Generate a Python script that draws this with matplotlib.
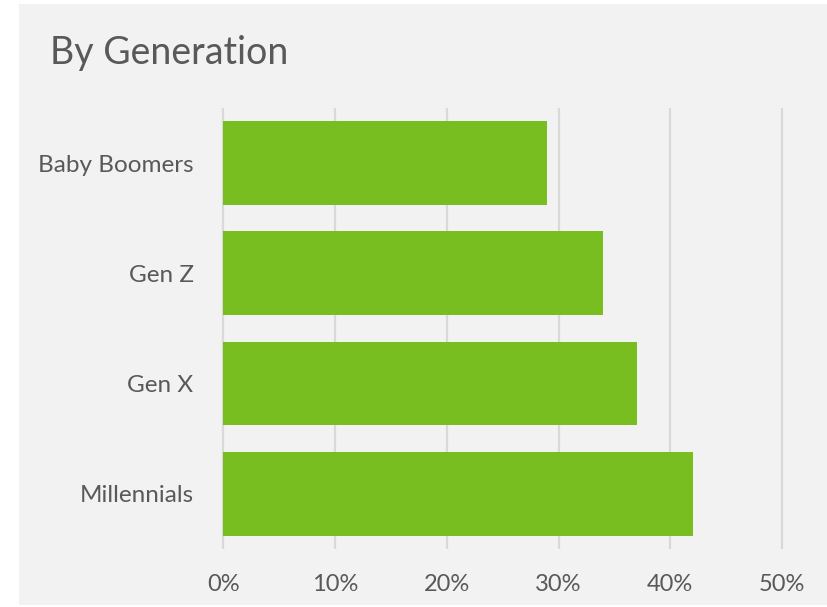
import matplotlib
matplotlib.use("Agg")
import matplotlib.pyplot as plt
from matplotlib.patches import Rectangle

# Share of respondents by generation (top to bottom as drawn)
generations = ["Baby Boomers", "Gen Z", "Gen X", "Millennials"]
shares = [29, 34, 37, 42]
x_ticks = [0, 10, 20, 30, 40, 50]
x_tick_labels = [f"{t}%" for t in x_ticks]

BAR_COLOR  = "#78be21"
PANEL_BG   = "#f2f2f2"
TEXT_COLOR = "#595959"
GRID_COLOR = "#d9d9d9"

plt.rcParams["font.family"] = ["Lato", "DejaVu Sans"]

fig = plt.figure(figsize=(8.28, 6.07), dpi=100)
fig.patch.set_facecolor("white")

# light gray card behind the chart
fig.patches.append(Rectangle((19 / 828, 2 / 607), 1 - 19 / 828, 1 - 6 / 607,
                             transform=fig.transFigure, facecolor=PANEL_BG,
                             edgecolor="none", zorder=-10))

ax = fig.add_axes([0.2657, 0.0956, 0.6824, 0.7265])
ax.set_zorder(1)
ax.set_facecolor("none")

ypos = list(range(len(generations)))
ax.barh(ypos, shares, height=0.76, color=BAR_COLOR, zorder=3)

ax.set_xlim(-0.313, 50.27)
ax.set_ylim(len(generations) - 0.5, -0.5)

for t in x_ticks:
    ax.axvline(t, color=GRID_COLOR, linewidth=1.6, zorder=1)

ax.set_xticks(x_ticks)
ax.set_xticklabels(x_tick_labels)
ax.set_yticks(ypos)
ax.set_yticklabels(generations)
ax.tick_params(axis="x", length=0, pad=18, labelsize=17, labelcolor=TEXT_COLOR)
ax.tick_params(axis="y", length=0, pad=19, labelsize=17.5, labelcolor=TEXT_COLOR)
for s in ax.spines.values():
    s.set_visible(False)

fig.text(50 / 828, 1 - 53 / 607, "By Generation", fontsize=27,
         color=TEXT_COLOR, ha="left", va="center")

fig.savefig("out.png", dpi=100)
